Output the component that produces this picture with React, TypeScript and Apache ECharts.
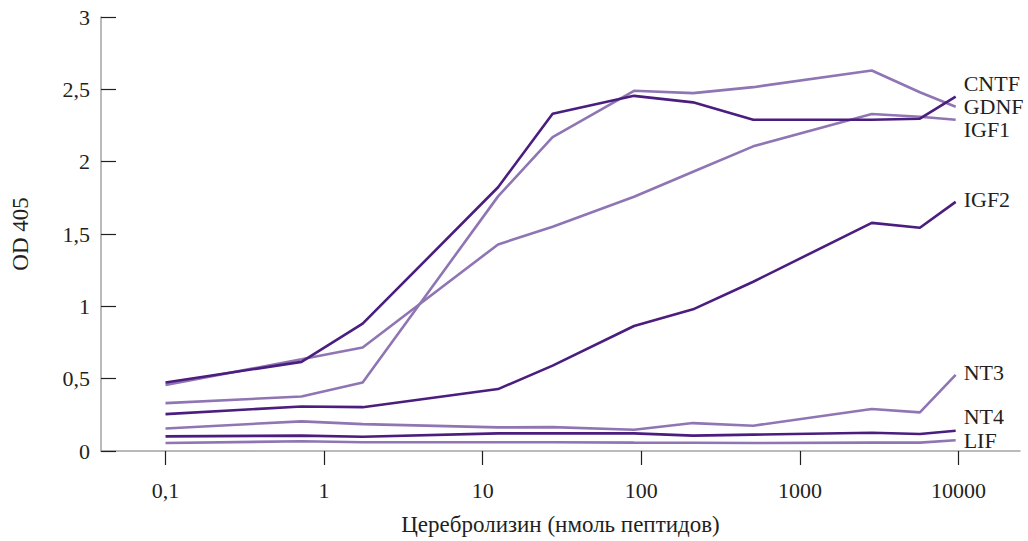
import React, { useEffect, useRef } from "react";
import * as echarts from "echarts";

// Concentration (nmol peptides) at which each point was measured
const concentrations = [0.1, 0.72, 1.75, 12.5, 27.6, 90, 212, 508, 2840, 5710, 9600];

const seriesNames = ["CNTF", "GDNF", "IGF1", "IGF2", "NT3", "NT4", "LIF"];

const cntf = [0.473, 0.616, 0.88, 1.823, 2.331, 2.455, 2.41, 2.29, 2.29, 2.297, 2.45];
const gdnf = [0.331, 0.377, 0.474, 1.76, 2.17, 2.49, 2.474, 2.515, 2.63, 2.48, 2.38];
const igf1 = [0.457, 0.634, 0.715, 1.428, 1.55, 1.757, 1.93, 2.106, 2.33, 2.31, 2.29];
const igf2 = [0.255, 0.308, 0.303, 0.428, 0.59, 0.864, 0.979, 1.17, 1.577, 1.543, 1.722];
const nt3 = [0.156, 0.205, 0.186, 0.163, 0.165, 0.147, 0.193, 0.175, 0.29, 0.267, 0.526];
const nt4 = [0.101, 0.106, 0.099, 0.122, 0.122, 0.122, 0.106, 0.113, 0.126, 0.117, 0.14];
const lif = [0.055, 0.067, 0.06, 0.06, 0.06, 0.058, 0.057, 0.055, 0.058, 0.058, 0.074];

const seriesValues = [cntf, gdnf, igf1, igf2, nt3, nt4, lif];

const xTickValues = [0.1, 1, 10, 100, 1000, 10000];
const yTickLabels = ["0", "0,5", "1", "1,5", "2", "2,5", "3"];

// styling (not data)
const DARK = "#4a1d7f";
const LIGHT = "#8f75b4";
const seriesColors = [DARK, LIGHT, LIGHT, DARK, LIGHT, DARK, LIGHT];
const labelNudge = [-13, 0, 10, -2, -2, -14, 0];

const FONT = "'Liberation Serif', 'Times New Roman', serif";
const TEXT = "#231f20";

export default function App() {
  const ref = useRef<HTMLDivElement>(null);

  useEffect(() => {
    if (!ref.current) return;
    const chart = echarts.init(ref.current, undefined, { renderer: "svg" });

    const series = seriesNames.map((name, i) => ({
      name,
      type: "line",
      showSymbol: false,
      symbol: "none",
      data: concentrations.map((c, j) => [c, seriesValues[i][j]]),
      lineStyle: { color: seriesColors[i], width: 2.6 },
      itemStyle: { color: seriesColors[i] },
      endLabel: {
        show: true,
        formatter: "{a}",
        distance: 8,
        offset: [0, labelNudge[i]],
        color: TEXT,
        fontFamily: FONT,
        fontSize: 22,
        lineHeight: 19,
      },
      z: seriesColors[i] === DARK ? 3 : 2,
    }));

    chart.setOption({
      animation: false,
      backgroundColor: "#ffffff",
      grid: { left: 101, right: 8, top: 17, bottom: 89 },
      xAxis: {
        type: "log",
        logBase: 10,
        min: 0.0392,
        max: 24430,
        name: "Церебролизин (нмоль пептидов)",
        nameLocation: "middle",
        nameGap: 62,
        nameTextStyle: { fontFamily: FONT, fontSize: 23, color: TEXT },
        axisLine: { show: true, lineStyle: { color: "#a3a3a3", width: 1.5 } },
        axisTick: {
          show: true,
          inside: false,
          length: 14,
          customValues: xTickValues,
          lineStyle: { color: TEXT, width: 1.2 },
        },
        axisLabel: {
          customValues: xTickValues,
          margin: 28,
          fontFamily: FONT,
          fontSize: 22,
          color: TEXT,
          formatter: (v: number) => String(v).replace(".", ","),
        },
        splitLine: { show: false },
        minorTick: { show: false },
      },
      yAxis: {
        type: "value",
        min: 0,
        max: 3,
        interval: 0.5,
        name: "OD 405",
        nameLocation: "middle",
        nameGap: 69,
        nameRotate: 90,
        nameTextStyle: { fontFamily: FONT, fontSize: 23, color: TEXT },
        axisLine: { show: true, lineStyle: { color: "#a3a3a3", width: 1.5 } },
        axisTick: {
          show: true,
          inside: true,
          length: 15,
          lineStyle: { color: TEXT, width: 1.2 },
        },
        axisLabel: {
          margin: 11,
          fontFamily: FONT,
          fontSize: 22,
          color: TEXT,
          formatter: (v: number) => yTickLabels[Math.round(v / 0.5)] ?? String(v),
        },
        splitLine: { show: false },
      },
      series,
    });

    return () => chart.dispose();
  }, []);

  return (
    <div
      ref={ref}
      style={{ position: "fixed", left: 0, top: 0, width: 1028, height: 541, background: "#fff" }}
    />
  );
}
